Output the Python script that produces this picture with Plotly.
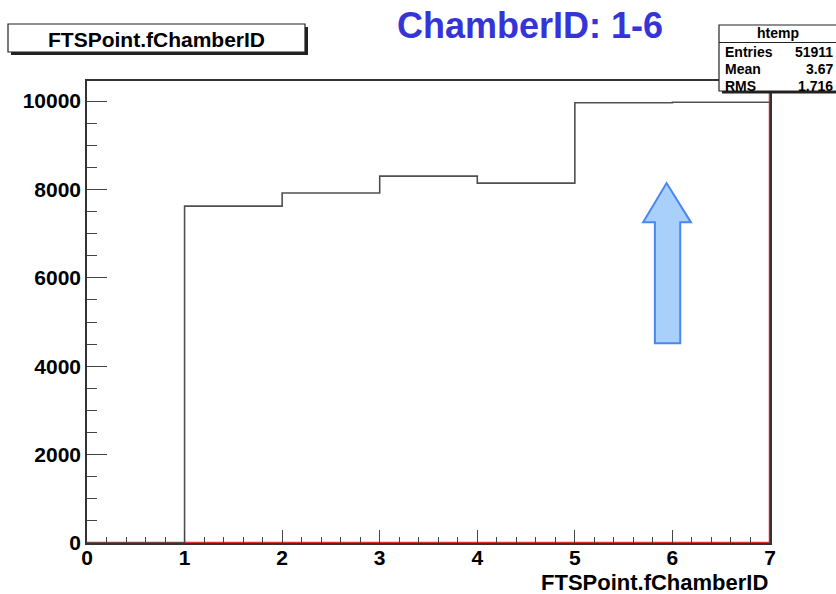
import plotly.graph_objects as go

# ---- data ----
chamber_ids = [1, 2, 3, 4, 5, 6]
counts = [7624, 7919, 8303, 8145, 9964, 9975]
x_ticks = [0, 1, 2, 3, 4, 5, 6, 7]
y_ticks = [0, 2000, 4000, 6000, 8000, 10000]
stats_labels = ["Entries", "Mean", "RMS"]
stats_values = ["51911", "3.67", "1.716"]
hist_name = "htemp"
var_name = "FTSPoint.fChamberID"
note_text = "ChamberID: 1-6"

W, H = 836, 594
L, R, T, B = 87, 66, 81, 51
PW, PH = W - L - R, H - T - B

def px(x):
    return (x - L) / PW

def py(y):
    return (H - B - y) / PH

# histogram step outline (bin [0,1] empty, bins [k,k+1] hold chamber k)
xs = [0] + [c for c in chamber_ids] + [chamber_ids[-1] + 1, chamber_ids[-1] + 1]
ys = [0] + counts + [counts[-1], 0]

FONT = "Liberation Sans, Arial, Helvetica, sans-serif"

fig = go.Figure()
# red line along the bottom and right edge
fig.add_trace(go.Scatter(x=[0, 7, 7], y=[0, 0, 10455], mode="lines",
                         line=dict(color="#e03030", width=2.5), hoverinfo="skip",
                         showlegend=False))
fig.add_trace(go.Scatter(x=xs, y=ys, mode="lines", line_shape="hv",
                         line=dict(color="#505050", width=1.6), showlegend=False))

shapes = []
# arrow (annotation graphic) in data coordinates
ax = [5.70, 5.82, 5.82, 6.08, 6.08, 6.19, 5.94]
ay = [7256, 7256, 4520, 4520, 7256, 7256, 8145]
path = "M " + " L ".join(f"{a},{b}" for a, b in zip(ax, ay)) + " Z"
shapes.append(dict(type="path", path=path, xref="x", yref="y",
                   fillcolor="#a9d0fb", line=dict(color="#4a86f0", width=2)))

# title box with shadow
shapes.append(dict(type="rect", xref="paper", yref="paper",
                   x0=px(11), x1=px(308), y0=py(55), y1=py(27),
                   fillcolor="#222222", line=dict(width=0)))
shapes.append(dict(type="rect", xref="paper", yref="paper",
                   x0=px(8), x1=px(305), y0=py(52), y1=py(24),
                   fillcolor="white", line=dict(color="#222222", width=1.2)))
# stats box with shadow
shapes.append(dict(type="rect", xref="paper", yref="paper",
                   x0=px(722), x1=px(840), y0=py(93.5), y1=py(28),
                   fillcolor="#222222", line=dict(width=0)))
shapes.append(dict(type="rect", xref="paper", yref="paper",
                   x0=px(719), x1=px(838), y0=py(91), y1=py(25),
                   fillcolor="white", line=dict(color="#222222", width=1.2)))
shapes.append(dict(type="line", xref="paper", yref="paper",
                   x0=px(719), x1=px(838), y0=py(42.5), y1=py(42.5),
                   line=dict(color="#222222", width=1)))

annotations = []
annotations.append(dict(text=var_name, xref="paper", yref="paper",
                        x=px(156), y=py(39), xanchor="center", yanchor="middle",
                        showarrow=False, font=dict(family=FONT, size=21, color="black", weight="bold")))
annotations.append(dict(text=note_text, xref="paper", yref="paper",
                        x=px(530), y=py(25), xanchor="center", yanchor="middle",
                        showarrow=False, font=dict(family=FONT, size=36, color="#3434d8", weight="bold")))
annotations.append(dict(text=hist_name, xref="paper", yref="paper",
                        x=px(778), y=py(33.5), xanchor="center", yanchor="middle",
                        showarrow=False, font=dict(family=FONT, size=14, color="black", weight="bold")))
row_y = [51.5, 69.5, 86.5]
for lab, val, yy in zip(stats_labels, stats_values, row_y):
    annotations.append(dict(text=lab, xref="paper", yref="paper",
                            x=px(723), y=py(yy), xanchor="left", yanchor="middle",
                            showarrow=False, font=dict(family=FONT, size=14, color="black", weight="bold")))
    annotations.append(dict(text=val, xref="paper", yref="paper",
                            x=px(835), y=py(yy), xanchor="right", yanchor="middle",
                            showarrow=False, font=dict(family=FONT, size=14, color="black", weight="bold")))
# x-axis title
annotations.append(dict(text=var_name, xref="paper", yref="paper",
                        x=1, y=py(582), xanchor="right", yanchor="middle",
                        showarrow=False, font=dict(family=FONT, size=22, color="black", weight="bold")))

fig.update_layout(
    width=W, height=H,
    margin=dict(l=L, r=R, t=T, b=B, pad=0),
    paper_bgcolor="white", plot_bgcolor="white",
    shapes=shapes, annotations=annotations,
    xaxis=dict(range=[0, 7], tickmode="array", tickvals=x_ticks,
               ticktext=[str(v) for v in x_ticks],
               ticks="inside", ticklen=13, tickcolor="#444444", tickwidth=1.2,
               minor=dict(dtick=0.2, ticks="inside", ticklen=6, tickcolor="#444444", tickwidth=1.2),
               showgrid=False, zeroline=False, showline=True, mirror=True,
               linecolor="#333333", linewidth=1.5, ticklabelstandoff=-5,
               tickfont=dict(family=FONT, size=21, color="black", weight="bold")),
    yaxis=dict(range=[0, 10455], tickmode="array", tickvals=y_ticks,
               ticktext=[str(v) for v in y_ticks],
               ticks="inside", ticklen=20, tickcolor="#444444", tickwidth=1.2,
               minor=dict(dtick=500, ticks="inside", ticklen=10, tickcolor="#444444", tickwidth=1.2),
               showgrid=False, zeroline=False, showline=True, mirror=True,
               linecolor="#333333", linewidth=1.5,
               tickfont=dict(family=FONT, size=21, color="black", weight="bold")),
)

fig.write_html("out.html")
